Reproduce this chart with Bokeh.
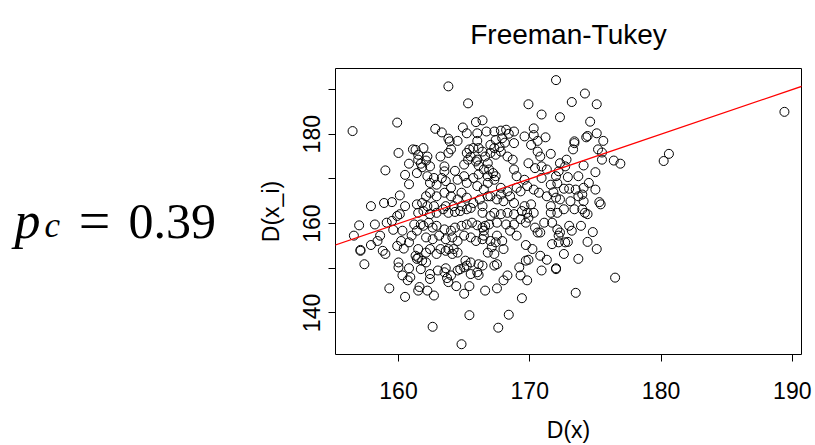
from bokeh.plotting import figure
from bokeh.models import Range1d, FixedTicker, Slope, Label
from bokeh.layouts import row
from bokeh.embed import file_html
from bokeh.resources import INLINE

title_text = "Freeman-Tukey"
x_label = "D(x)"
y_label = "D(x_i)"
pc_symbol = "p"
pc_sub = "c"
pc_value = "0.39"
x_ticks = [160, 170, 180, 190]
y_ticks = [140, 150, 160, 170, 180, 190]
y_tick_text = {140: "140", 150: "", 160: "160", 170: "", 180: "180", 190: ""}
abline_intercept = 0.0
abline_slope = 1.0

# points, region by region
x_far = [189.4, 180.6, 180.2]
y_far = [185.0, 175.6, 174.0]

x_top_left = [163.8, 165.3, 156.5, 159.9, 165.9, 166.4, 162.8, 163.3, 163.8, 163.9,
              164.5, 164.9, 165.2, 166.0, 166.0, 166.7, 160.0, 159.0, 161.1, 161.3,
              161.9, 161.5, 162.2, 162.1, 161.7, 161.5, 161.8, 162.4, 160.8, 160.5,
              161.4, 160.8, 160.1, 157.9, 158.9, 159.5, 160.5]
y_top_left = [190.7, 186.9, 180.7, 182.6, 182.7, 183.1, 181.2, 180.4, 179.0, 178.4,
              178.5, 181.5, 180.2, 180.2, 178.5, 180.6, 175.8, 171.9, 176.6, 176.5,
              176.9, 175.4, 175.0, 174.1, 173.4, 174.3, 172.6, 172.8, 173.4, 170.9,
              171.3, 168.8, 166.3, 163.9, 164.6, 164.8, 163.9]

x_top_mid = [163.2, 163.8, 164.0, 163.5, 163.5, 164.3, 163.3, 162.7, 162.2, 162.4,
             162.9, 163.6, 164.0, 164.5, 165.0, 165.2, 165.7, 166.1, 166.5, 166.8,
             166.0, 165.5, 165.2, 165.4, 165.7, 166.1, 166.4, 166.6, 166.8, 166.1,
             165.9, 165.3, 165.0, 166.0, 166.5, 166.8, 166.2, 165.7, 165.2, 164.8,
             164.5, 164.0, 163.5, 162.9, 162.4, 162.1, 161.8, 161.4, 162.2, 162.7,
             163.6, 164.2, 164.8, 165.5, 166.4]
y_top_mid = [175.0, 175.8, 176.6, 172.8, 171.7, 171.8, 170.2, 170.2, 170.6, 169.1,
             168.7, 169.5, 168.0, 169.8, 170.6, 169.1, 170.2, 171.0, 172.1, 170.6,
             174.3, 175.0, 175.8, 176.6, 176.9, 176.9, 176.1, 175.0, 173.5, 173.0,
             173.9, 174.3, 173.2, 168.4, 167.6, 166.1, 165.4, 164.6, 165.8, 166.9,
             165.4, 166.1, 166.9, 166.1, 166.9, 166.1, 164.6, 164.3, 163.9, 163.9,
             163.9, 163.9, 163.9, 163.5, 163.9]

x_top_right = [172.0, 174.2, 169.9, 173.2, 175.1, 170.9, 172.3, 174.6, 170.3, 175.1,
               174.3, 174.4, 175.6, 173.4, 173.4, 173.3, 175.2, 175.5, 171.6, 176.4,
               176.9, 175.5, 174.1, 169.6, 170.3, 171.2, 170.6, 170.1, 170.6, 170.8,
               169.9, 170.4, 170.9, 171.3, 172.2, 172.9, 173.7, 175.0, 174.5, 175.0,
               174.1, 173.5, 173.0, 172.6, 172.1, 171.6, 171.8, 171.3, 172.3, 172.0,
               173.1, 173.7, 174.0, 174.1, 175.3, 175.4, 171.6, 170.1, 169.6, 168.8,
               169.0, 168.8, 168.7, 168.3, 167.8, 167.4, 167.0, 167.0, 167.4, 167.7,
               167.3, 168.1, 168.4, 168.2, 167.8, 167.3, 168.8, 168.8, 167.9, 166.9,
               167.4, 167.2, 167.3, 166.8, 167.8, 168.3, 169.0, 169.8, 170.3, 170.7,
               169.6, 169.3, 168.5, 168.0, 167.8, 167.5, 167.0, 170.9, 172.3, 172.8,
               172.7, 172.0]
y_top_right = [192.1, 189.1, 186.7, 187.2, 186.7, 184.4, 183.8, 182.8, 181.3, 180.2,
               179.3, 179.6, 178.5, 178.4, 178.0, 176.6, 176.6, 175.9, 175.6, 174.1,
               173.4, 174.3, 173.0, 179.5, 179.8, 179.3, 178.5, 177.6, 176.1, 175.0,
               173.5, 172.4, 172.8, 172.1, 171.7, 170.4, 170.6, 171.5, 169.1, 167.6,
               168.0, 167.6, 167.8, 167.8, 169.0, 168.7, 167.0, 166.1, 165.4, 165.8,
               165.0, 166.1, 166.5, 165.0, 164.8, 164.3, 163.9, 164.3, 163.9, 164.6,
               170.6, 172.1, 174.3, 175.0, 176.1, 175.4, 175.8, 177.6, 178.7, 177.1,
               176.9, 178.1, 180.1, 181.0, 180.8, 180.6, 178.0, 180.6, 179.1, 172.1,
               170.6, 171.3, 169.8, 169.1, 168.0, 167.2, 168.0, 168.4, 167.6, 166.9,
               169.8, 167.2, 166.1, 165.0, 166.5, 165.4, 166.1, 170.2, 173.5, 174.3,
               172.8, 170.6]

x_bot_left = [157.0, 158.2, 156.6, 157.1, 157.1, 157.4, 157.9, 158.4, 158.6, 158.8,
              159.0, 159.1, 159.5, 159.9, 160.1, 159.6, 160.3, 160.2, 159.9, 160.4,
              160.8, 161.0, 161.2, 161.4, 160.0, 160.0, 160.3, 160.8, 160.9, 160.7,
              159.3, 160.5, 161.5, 161.6, 162.2, 162.7, 162.4, 162.4, 161.7, 161.4,
              161.5, 161.8, 162.1, 161.3, 161.5, 162.1, 162.4, 162.9, 163.2, 163.6,
              163.8, 164.2, 164.5, 164.1, 163.0, 163.6, 163.7, 164.0, 163.8, 164.4,
              163.5, 164.7, 165.0, 165.2, 164.5, 165.5, 166.0, 165.1, 165.5, 166.1,
              166.4, 166.1, 165.4, 165.0, 165.4, 162.6, 164.8, 161.5, 161.9, 162.4,
              162.9, 163.4, 163.8, 164.3, 164.7, 165.2, 161.7, 161.9, 162.3, 162.6,
              162.9, 163.5, 164.0, 164.3, 164.8, 165.2, 165.6, 166.0, 166.4, 162.1,
              162.6, 163.1, 163.6, 164.1, 164.5, 165.0, 165.5, 165.9, 166.4]
y_bot_left = [159.6, 159.8, 157.3, 154.1, 153.9, 150.9, 155.2, 156.1, 157.3, 153.9,
              153.2, 160.2, 160.6, 161.7, 162.1, 158.6, 158.4, 156.1, 155.0, 154.4,
              155.8, 157.3, 159.8, 158.4, 151.3, 150.2, 148.4, 150.0, 148.0, 147.3,
              145.5, 143.6, 145.0, 145.8, 145.0, 143.9, 147.6, 148.7, 149.8, 152.1,
              152.4, 151.7, 151.3, 152.8, 154.3, 153.5, 154.3, 153.2, 154.3, 153.9,
              154.3, 154.3, 153.5, 153.2, 149.5, 150.0, 147.8, 148.4, 146.9, 146.0,
              149.1, 149.8, 150.2, 150.6, 149.5, 148.7, 149.1, 151.7, 151.3, 150.9,
              150.6, 148.5, 146.0, 144.3, 139.5, 136.9, 133.0, 162.4, 162.8, 162.1,
              162.4, 163.2, 162.4, 162.6, 162.8, 163.2, 159.8, 159.5, 160.2, 159.1,
              159.5, 158.7, 158.4, 159.1, 159.5, 159.8, 160.2, 159.6, 159.1, 156.9,
              156.5, 157.3, 156.5, 156.9, 156.1, 157.3, 156.9, 156.1, 156.5]

x_bot_right = [167.3, 167.0, 167.8, 168.3, 168.8, 169.4, 169.8, 169.9, 170.3, 166.6,
               166.5, 166.9, 167.5, 168.2, 168.5, 169.7, 170.4, 170.8, 171.1, 171.7,
               172.1, 172.3, 172.2, 173.0, 173.2, 173.9, 174.4, 174.2, 174.0, 174.8,
               174.4, 175.1, 167.0, 167.4, 167.1, 166.8, 167.3, 168.0, 167.5, 167.3,
               169.7, 170.2, 170.8, 171.3, 169.7, 169.9, 169.2, 169.3, 169.8, 168.3,
               168.0, 170.9, 172.0, 172.0, 171.7, 172.2, 172.7, 172.9, 172.6, 173.7,
               176.5, 173.5, 167.5, 166.6, 169.4, 168.4, 167.6, 170.6, 171.6, 172.1,
               172.6, 173.4, 166.4, 166.5, 167.5, 167.9, 168.8, 169.0, 169.3]
y_bot_right = [162.4, 161.7, 162.1, 162.4, 162.1, 162.8, 162.4, 161.3, 162.4, 159.5,
               158.4, 159.8, 160.2, 159.8, 158.4, 160.2, 159.1, 158.0, 160.2, 160.2,
               158.7, 158.0, 157.3, 159.5, 158.4, 159.5, 162.1, 162.4, 163.2, 158.1,
               155.9, 154.3, 156.1, 155.8, 154.7, 153.5, 153.2, 154.3, 150.9, 150.6,
               155.2, 154.3, 152.8, 151.9, 151.7, 151.9, 150.2, 148.4, 147.3, 148.4,
               147.3, 149.5, 150.0, 149.8, 155.4, 155.8, 155.8, 155.9, 153.2, 152.1,
               147.9, 144.5, 145.5, 145.0, 143.3, 139.6, 136.7, 158.0, 162.4, 162.4,
               163.2, 163.2, 162.4, 157.3, 157.3, 156.1, 159.8, 157.3, 161.0]

dx = x_far + x_top_left + x_top_mid + x_top_right + x_bot_left + x_bot_right
dy = y_far + y_top_left + y_top_mid + y_top_right + y_bot_left + y_bot_right

SANS = "Liberation Sans"

p = figure(width=565, height=445,
           x_range=Range1d(155.2, 190.7), y_range=Range1d(130.7, 194.7),
           output_backend="svg", toolbar_location=None,
           min_border_left=85, min_border_right=14,
           min_border_top=68, min_border_bottom=89,
           title=title_text)
p.title.text_font = SANS
p.title.text_font_size = "28px"
p.title.text_font_style = "normal"
p.title.text_color = "black"
p.title.align = "center"
p.title.vertical_align = "top"
p.title.standoff = 34

p.background_fill_color = "white"
p.border_fill_color = "white"
p.outline_line_color = "black"
p.outline_line_width = 1
p.outline_line_alpha = 1
p.xgrid.visible = False
p.ygrid.visible = False

for ax in (p.xaxis[0], p.yaxis[0]):
    ax.axis_line_color = None
    ax.major_tick_line_color = "black"
    ax.major_tick_out = 7
    ax.major_tick_in = 0
    ax.minor_tick_out = 0
    ax.minor_tick_in = 0
    ax.major_label_text_font = SANS
    ax.major_label_text_font_size = "23px"
    ax.major_label_text_color = "black"
    ax.axis_label_text_font = SANS
    ax.axis_label_text_font_size = "23px"
    ax.axis_label_text_font_style = "normal"
    ax.axis_label_text_color = "black"

p.xaxis.ticker = FixedTicker(ticks=x_ticks, minor_ticks=[])
p.xaxis.axis_label = x_label
p.xaxis.major_label_standoff = 20
p.xaxis.axis_label_standoff = 15

p.yaxis.ticker = FixedTicker(ticks=y_ticks, minor_ticks=[])
p.yaxis.major_label_overrides = y_tick_text
p.yaxis.major_label_orientation = "vertical"
p.yaxis.axis_label = y_label
p.yaxis.major_label_standoff = 8
p.yaxis.axis_label_standoff = 17

p.scatter(dx, dy, marker="circle", size=9, fill_color=None,
          line_color="black", line_width=1)
p.add_layout(Slope(gradient=abline_slope, y_intercept=abline_intercept,
                   line_color="red", line_width=1.3))

# left panel with the p_c annotation
q = figure(width=250, height=445, x_range=Range1d(0, 250), y_range=Range1d(445, 0),
           output_backend="svg", toolbar_location=None,
           x_axis_location=None, y_axis_location=None, min_border=0)
q.xgrid.visible = False
q.ygrid.visible = False
q.outline_line_color = None
q.background_fill_color = "white"
q.border_fill_color = "white"

SERIF = "Liberation Serif"
q.add_layout(Label(x=14, y=237, text=pc_symbol, text_font=SERIF, text_font_style="italic",
                   text_font_size="52px", text_baseline="alphabetic", text_color="black"))
q.add_layout(Label(x=44, y=244, text=pc_sub, text_font=SERIF, text_font_style="italic",
                   text_font_size="35px", text_baseline="alphabetic", text_color="black"))
q.add_layout(Label(x=94, y=237, text="=", text_font=SERIF, text_align="center",
                   text_font_size="56px", text_baseline="alphabetic", text_color="black"))
q.add_layout(Label(x=128, y=238, text=pc_value, text_font=SERIF,
                   text_font_size="50px", text_baseline="alphabetic", text_color="black"))

layout = row(q, p)
open("out.html", "w").write(file_html(layout, INLINE))
